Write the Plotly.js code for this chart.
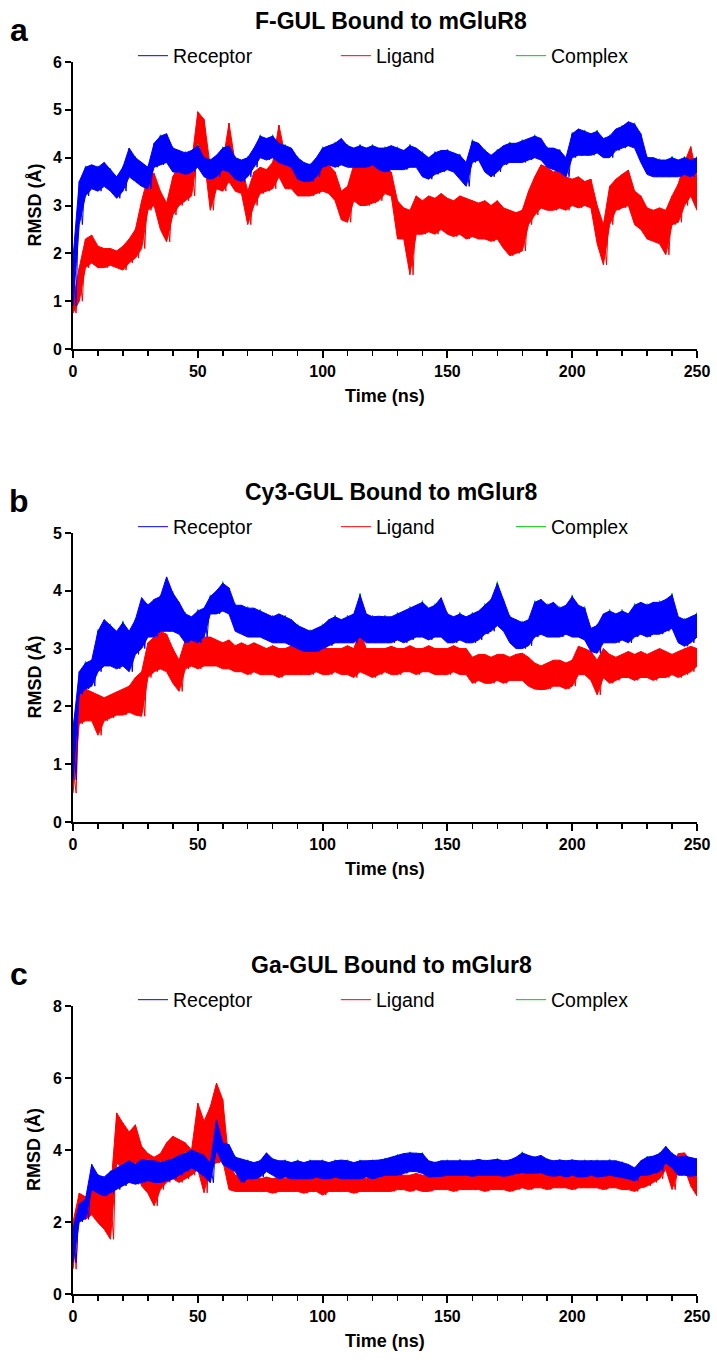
<!DOCTYPE html>
<html><head><meta charset="utf-8">
<script src="https://cdn.plot.ly/plotly-3.0.1.min.js"></script>
<style>html,body{margin:0;padding:0;background:#fff}#chart{width:717px;height:1362px}</style>
</head><body><div id="chart"></div>
<script>
// ---------------- DATA (RMSD in Å) ----------------
// Receptor / Ligand: upper and lower edge of the noisy trace, every 2.5 ns (0..250)
const aRecHi = [1.9,3.5,3.8,3.85,3.8,3.9,3.75,3.6,3.8,4.2, 4.0,3.9,3.8,4.3,4.45,4.5,4.2,4.15,4.1,4.15, 4.25,4.0,3.95,4.05,4.2,4.25,4.0,3.95,4.0,4.2, 4.45,4.4,4.45,4.3,4.25,4.2,4.0,3.9,3.85,4.0, 4.2,4.25,4.3,4.4,4.25,4.2,4.25,4.2,4.25,4.2, 4.2,4.25,4.2,4.15,4.25,4.2,4.1,4.0,4.1,4.15, 4.15,4.1,4.05,3.9,4.35,4.3,4.15,4.05,4.15,4.25, 4.3,4.3,4.35,4.4,4.45,4.4,4.2,4.2,4.15,4.0, 4.5,4.6,4.55,4.5,4.55,4.4,4.45,4.6,4.65,4.75, 4.7,4.5,4.0,4.0,3.95,3.95,4.0,3.95,4.0,3.95, 4.0];
const aRecLo = [0.9,2.6,3.2,3.35,3.3,3.4,3.3,3.15,3.3,3.6, 3.5,3.4,3.35,3.8,3.85,3.9,3.7,3.7,3.65,3.7, 3.8,3.6,3.55,3.6,3.75,3.7,3.55,3.5,3.6,3.8, 4.0,3.95,4.0,3.9,3.85,3.8,3.55,3.5,3.5,3.6, 3.8,3.85,3.8,3.85,3.8,3.8,3.8,3.8,3.85,3.75, 3.7,3.75,3.75,3.75,3.8,3.8,3.6,3.55,3.65,3.7, 3.75,3.7,3.55,3.4,3.9,3.95,3.7,3.6,3.7,3.85, 3.9,3.9,3.9,3.95,4.0,3.95,3.8,3.75,3.7,3.6, 4.0,4.05,4.05,4.05,4.1,4.0,4.0,4.15,4.2,4.25, 4.2,3.9,3.65,3.6,3.6,3.6,3.6,3.6,3.65,3.6, 3.7];
const aLigHi = [1.0,1.7,2.3,2.38,2.15,2.1,2.1,2.05,2.15,2.3, 2.5,3.1,3.6,3.67,3.3,3.05,3.6,3.85,3.88,3.9, 4.96,4.8,3.8,3.95,3.9,4.72,3.88,3.85,3.3,3.7, 3.8,3.75,3.9,4.68,4.05,4.0,3.74,3.7,3.6,3.7, 3.88,3.85,3.7,3.3,3.4,3.85,3.85,3.8,3.85,3.8, 3.8,3.7,3.1,2.95,2.9,3.2,3.1,3.2,3.15,3.25, 3.15,3.1,3.2,3.15,3.1,3.05,3.1,3.0,3.1,2.95, 2.9,2.85,2.9,3.3,3.6,3.85,3.8,3.7,3.75,3.6, 3.55,3.6,3.5,3.55,3.0,2.6,3.4,3.55,3.65,3.74, 3.3,3.2,2.95,2.9,2.95,2.9,3.2,3.45,3.9,4.23, 3.6];
const aLigLo = [0.75,1.0,1.7,1.8,1.7,1.7,1.75,1.7,1.65,1.8, 1.9,2.1,2.9,3.0,2.5,2.24,2.8,3.0,3.1,3.2, 4.1,4.0,2.9,3.35,3.3,3.5,3.3,3.25,2.6,3.0, 3.25,3.3,3.35,3.6,3.35,3.35,3.2,3.2,3.2,3.25, 3.3,3.25,3.1,2.7,2.65,3.1,3.0,3.0,3.05,3.1, 3.25,3.2,2.3,2.3,1.55,2.4,2.4,2.45,2.4,2.5, 2.4,2.35,2.4,2.3,2.35,2.3,2.3,2.25,2.3,2.1, 1.95,2.0,2.05,2.6,2.8,2.95,2.9,2.9,2.95,2.9, 3.0,2.95,3.0,2.95,2.2,1.76,2.6,2.9,2.95,3.0, 2.6,2.5,2.3,2.25,2.2,1.97,2.6,2.65,3.0,3.2, 2.9];

const bRecHi = [1.6,2.6,2.75,2.8,3.3,3.5,3.4,3.3,3.45,3.3, 3.5,3.88,3.75,3.85,3.9,4.24,3.96,3.8,3.6,3.55, 3.65,3.7,3.9,4.0,4.13,4.05,3.75,3.75,3.7,3.7, 3.65,3.6,3.55,3.6,3.55,3.5,3.4,3.35,3.3,3.35, 3.4,3.5,3.55,3.5,3.55,3.6,3.93,3.6,3.55,3.56, 3.55,3.55,3.6,3.65,3.7,3.75,3.8,3.7,3.75,3.88, 3.6,3.55,3.6,3.55,3.6,3.65,3.75,3.85,4.13,3.85, 3.55,3.5,3.45,3.5,3.8,3.85,3.75,3.8,3.7,3.75, 3.9,3.75,3.7,3.35,3.4,3.6,3.65,3.6,3.65,3.6, 3.75,3.8,3.75,3.8,3.8,3.85,3.93,3.55,3.5,3.55, 3.6];
const bRecLo = [0.73,2.2,2.3,2.35,2.6,2.7,2.7,2.65,2.7,2.6, 2.9,3.0,3.2,3.2,3.3,3.3,3.3,3.25,3.1,3.15, 3.1,3.2,3.6,3.6,3.65,3.6,3.3,3.25,3.2,3.2, 3.2,3.15,3.1,3.1,3.1,3.05,3.0,2.95,2.95,2.95, 3.0,3.05,3.1,3.1,3.1,3.1,3.2,3.1,3.1,3.1, 3.1,3.1,3.15,3.1,3.15,3.2,3.2,3.15,3.2,3.2, 3.1,3.1,3.15,3.1,3.1,3.15,3.25,3.3,3.4,3.3, 3.1,3.0,3.0,3.05,3.2,3.25,3.2,3.2,3.2,3.25, 3.2,3.2,3.15,2.95,2.92,3.1,3.1,3.1,3.15,3.1, 3.2,3.25,3.2,3.25,3.25,3.3,3.35,3.1,3.04,3.1, 3.2];
const bLigHi = [1.0,2.29,2.3,2.25,2.2,2.15,2.2,2.25,2.3,2.35, 2.5,2.6,3.1,3.2,3.3,3.25,3.0,2.8,3.15,3.2, 3.15,3.2,3.2,3.15,3.1,3.15,3.05,3.1,3.05,3.1, 3.05,3.0,3.05,3.0,3.0,3.05,3.0,2.95,3.0,3.0, 3.0,3.0,3.0,3.0,3.05,3.0,3.3,3.0,3.0,3.0, 3.0,3.04,3.0,3.0,3.05,3.0,3.0,3.05,3.0,3.0, 3.0,3.05,3.0,3.0,2.85,2.9,2.9,2.85,2.9,2.9, 2.85,2.9,2.92,2.85,2.75,2.7,2.75,2.8,2.8,2.75, 2.8,3.04,3.0,2.95,2.8,3.0,2.9,2.85,2.9,2.95, 2.9,2.95,2.9,2.95,3.0,2.95,2.9,2.95,3.0,3.04, 3.0];
const bLigLo = [0.5,1.7,1.75,1.75,1.5,1.75,1.8,1.85,1.85,1.9, 1.85,1.83,2.5,2.6,2.65,2.6,2.4,2.26,2.65,2.7, 2.65,2.7,2.7,2.7,2.65,2.65,2.6,2.6,2.55,2.6, 2.55,2.55,2.55,2.5,2.55,2.55,2.55,2.55,2.55,2.6, 2.55,2.55,2.6,2.55,2.55,2.5,2.6,2.55,2.5,2.55, 2.6,2.55,2.55,2.6,2.6,2.55,2.6,2.6,2.55,2.55, 2.55,2.6,2.55,2.55,2.4,2.45,2.4,2.4,2.45,2.4, 2.45,2.45,2.45,2.35,2.3,2.29,2.3,2.35,2.35,2.3, 2.35,2.55,2.55,2.45,2.2,2.5,2.4,2.45,2.5,2.5, 2.45,2.5,2.5,2.45,2.5,2.5,2.55,2.5,2.55,2.6, 2.7];

const cRecHi = [1.8,2.5,2.63,3.6,3.3,3.25,3.4,3.5,3.6,3.7, 3.6,3.74,3.7,3.7,3.65,3.7,3.75,3.85,3.9,4.0, 3.92,3.85,3.64,4.84,4.2,4.15,3.8,3.74,3.7,3.65, 3.7,3.92,3.75,3.7,3.7,3.65,3.7,3.65,3.7,3.7, 3.7,3.65,3.7,3.72,3.7,3.65,3.7,3.7,3.7,3.72, 3.75,3.8,3.85,3.9,3.92,3.92,3.9,3.7,3.65,3.7, 3.7,3.7,3.72,3.7,3.7,3.74,3.7,3.72,3.74,3.7, 3.72,3.8,3.92,3.85,3.8,3.85,3.74,3.7,3.72,3.7, 3.72,3.7,3.7,3.72,3.7,3.7,3.72,3.7,3.65,3.6, 3.5,3.7,3.8,3.83,3.9,4.1,3.9,3.8,3.83,3.8, 3.75];
const cRecLo = [0.87,2.0,2.1,2.9,2.8,2.72,2.8,2.9,3.0,3.1, 3.05,3.1,3.15,3.1,3.1,3.15,3.2,3.3,3.4,3.5, 3.4,3.27,3.09,4.0,3.6,3.5,3.4,3.1,3.2,3.2, 3.25,3.4,3.3,3.2,3.25,3.2,3.2,3.2,3.2,3.25, 3.2,3.2,3.25,3.2,3.2,3.2,3.2,3.25,3.2,3.25, 3.3,3.3,3.3,3.35,3.4,3.4,3.35,3.25,3.27,3.27, 3.3,3.3,3.3,3.3,3.27,3.3,3.3,3.3,3.3,3.27, 3.3,3.35,3.37,3.35,3.35,3.37,3.3,3.27,3.3,3.25, 3.3,3.25,3.25,3.3,3.25,3.27,3.3,3.25,3.23,3.2, 3.14,3.3,3.3,3.35,3.4,3.64,3.5,3.3,3.3,3.27, 3.3];
const cLigHi = [2.0,2.8,2.7,2.9,2.85,3.0,2.8,5.03,4.75,4.5, 4.7,4.1,3.9,3.8,3.9,4.2,4.38,4.3,4.2,4.0, 5.3,4.8,5.2,5.86,5.4,3.64,3.3,3.27,3.25,3.27, 3.2,3.25,3.2,3.25,3.2,3.25,3.2,3.27,3.2,3.25, 3.2,3.2,3.25,3.2,3.25,3.2,3.25,3.2,3.25,3.3, 3.3,3.3,3.35,3.3,3.3,3.35,3.3,3.3,3.35,3.3, 3.35,3.3,3.35,3.37,3.3,3.35,3.3,3.35,3.37,3.3, 3.37,3.4,3.45,3.4,3.4,3.45,3.4,3.45,3.4,3.45, 3.4,3.45,3.4,3.45,3.4,3.45,3.4,3.45,3.4,3.3, 3.3,3.45,3.5,3.55,3.64,4.0,3.5,3.9,3.92,3.7, 3.37];
const cLigLo = [0.69,2.2,2.07,2.2,1.98,1.8,1.52,3.64,3.5,3.46, 3.5,3.0,2.8,2.45,2.9,3.1,3.2,3.1,3.2,3.3, 3.46,2.81,3.6,3.64,3.7,2.9,2.85,2.85,2.85,2.85, 2.85,2.85,2.8,2.85,2.85,2.85,2.85,2.8,2.85,2.85, 2.75,2.85,2.85,2.85,2.85,2.8,2.85,2.85,2.85,2.85, 2.85,2.85,2.9,2.9,2.85,2.9,2.85,2.85,2.9,2.9, 2.9,2.85,2.9,2.9,2.9,2.9,2.85,2.9,2.9,2.9, 2.85,2.9,2.95,2.9,2.95,2.95,2.9,2.95,2.95,2.95, 2.9,2.95,2.95,2.95,2.95,2.9,2.95,2.95,2.9,2.9, 2.85,2.95,3.0,3.1,3.2,3.46,2.9,3.4,3.5,3.0, 2.72];

// Complex: peaks every 5 ns (0..250) and troughs in between (2.5..247.5)
const aCpxHi = [1.95,3.83,3.83,3.78,3.83,4.03,3.83,4.48,4.23,4.13, 4.28,3.98,4.23,4.03,4.03,4.48,4.48,4.28,4.03,3.88, 4.23,4.33,4.28,4.28,4.28,4.23,4.23,4.28,4.13,4.13, 4.18,4.08,4.38,4.18,4.18,4.33,4.38,4.48,4.23,4.18, 4.53,4.58,4.58,4.48,4.68,4.73,4.03,3.98,4.03,4.03, 4.03];
const aCpxLo = [2.7,3.45,3.5,3.25,3.7,3.5,3.9,4.0,3.8,3.8, 3.7,3.7,3.8,3.6,3.9,4.05,4.0,3.9,3.6,3.7, 3.95,3.95,3.9,3.9,3.85,3.85,3.85,3.9,3.65,3.8, 3.8,3.5,4.05,3.7,3.95,4.0,4.05,4.05,3.85,3.7, 4.15,4.15,4.1,4.25,4.35,4.0,3.7,3.7,3.7,3.7];
const bCpxHi = [1.65,2.78,3.33,3.43,3.48,3.53,3.78,3.93,3.99,3.63, 3.68,3.93,4.16,3.78,3.73,3.68,3.58,3.58,3.43,3.33, 3.43,3.58,3.58,3.96,3.58,3.58,3.63,3.73,3.83,3.78, 3.63,3.63,3.63,3.78,4.16,3.58,3.48,3.83,3.78,3.73, 3.93,3.73,3.43,3.68,3.68,3.78,3.78,3.83,3.96,3.53, 3.63];
const bCpxLo = [2.3,2.45,2.8,2.75,2.7,3.1,3.3,3.4,3.35,3.25, 3.3,3.7,3.7,3.35,3.3,3.25,3.2,3.15,3.05,3.05, 3.15,3.2,3.2,3.2,3.2,3.2,3.2,3.3,3.25,3.3, 3.2,3.2,3.25,3.4,3.4,3.1,3.15,3.35,3.3,3.35, 3.3,3.05,3.2,3.2,3.2,3.35,3.35,3.4,3.2,3.2];
const cCpxHi = [1.85,2.66,3.33,3.43,3.63,3.63,3.73,3.68,3.78,3.93, 3.95,3.67,4.23,3.83,3.73,3.73,3.78,3.73,3.73,3.73, 3.73,3.73,3.73,3.73,3.73,3.78,3.88,3.95,3.93,3.68, 3.73,3.75,3.73,3.73,3.77,3.75,3.95,3.83,3.77,3.75, 3.75,3.73,3.73,3.75,3.68,3.53,3.83,3.93,3.93,3.86, 3.78];
const cCpxLo = [2.1,3.0,2.82,3.0,3.2,3.2,3.2,3.25,3.4,3.6, 3.37,4.1,3.6,3.2,3.3,3.5,3.3,3.3,3.3,3.35, 3.3,3.3,3.3,3.35,3.35,3.4,3.45,3.5,3.35,3.37, 3.4,3.4,3.4,3.4,3.37,3.45,3.45,3.47,3.37,3.35, 3.35,3.4,3.37,3.35,3.3,3.4,3.45,3.74,3.4,3.37];

const panelTitles = ['F-GUL Bound to mGluR8', 'Cy3-GUL Bound to mGlur8', 'Ga-GUL Bound to mGlur8'];
const panelLetters = ['a', 'b', 'c'];
const seriesNames = ['Receptor', 'Ligand', 'Complex'];
const yMax = [6, 5, 8];
const yStep = [1, 1, 2];
const xTicks = [0, 50, 100, 150, 200, 250];

// ---------------- BUILD ----------------
const W = 717, H = 1362;
const BLUE = '#0000ff', RED = '#ff0000', GREEN = '#00c800';
const FONT = 'Liberation Sans, Arial, sans-serif';
const px = v => v / W;
const py = v => 1 - v / H;

// panel geometry in pixels
const plotLeft = 73, plotRight = 697;
const plotTop = [62, 533, 1006];
const plotBottom = [349, 822, 1294];

function zig(hi, lo, step) {
  const x = [], y = [];
  for (let i = 0; i < hi.length; i++) {
    x.push(i * step); y.push(hi[i]);
    const tl = i * step + step / 2;
    if (i < lo.length && tl <= 250) { x.push(tl); y.push(lo[i]); }
  }
  return {x, y};
}
function band(hi, lo, step) {
  const t = hi.map((_, i) => i * step);
  return {x: t.concat(t.slice().reverse()), y: hi.concat(lo.slice().reverse())};
}

const panels = [
  {rec: [aRecHi, aRecLo], lig: [aLigHi, aLigLo], cpx: [aCpxHi, aCpxLo]},
  {rec: [bRecHi, bRecLo], lig: [bLigHi, bLigLo], cpx: [bCpxHi, bCpxLo]},
  {rec: [cRecHi, cRecLo], lig: [cLigHi, cLigLo], cpx: [cCpxHi, cCpxLo]},
];

const data = [];
const layout = {
  width: W, height: H, autosize: false,
  margin: {l: 0, r: 0, t: 0, b: 0},
  paper_bgcolor: '#fff', plot_bgcolor: 'rgba(0,0,0,0)',
  annotations: [], showlegend: true
};
const legendX = [133, 336, 511];

panels.forEach((p, k) => {
  const xa = k === 0 ? 'x' : 'x' + (k + 1);
  const ya = k === 0 ? 'y' : 'y' + (k + 1);
  const lg = n => { const idx = k * 3 + n; return idx === 0 ? 'legend' : 'legend' + (idx + 1); };
  const common = {xaxis: xa, yaxis: ya, type: 'scatter', mode: 'lines', hoverinfo: 'skip'};

  const lb = band(p.lig[0], p.lig[1], 2.5);
  data.push(Object.assign({}, common, {x: lb.x, y: lb.y, fill: 'toself', fillcolor: RED, line: {color: RED, width: 1}, showlegend: false}));
  const lz = zig(p.lig[0], p.lig[1], 2.5);
  data.push(Object.assign({}, common, {x: lz.x, y: lz.y, name: seriesNames[1], line: {color: RED, width: 1}, legend: lg(1)}));

  const cz = zig(p.cpx[0], p.cpx[1], 5);
  data.push(Object.assign({}, common, {x: cz.x, y: cz.y, name: seriesNames[2], line: {color: GREEN, width: 1}, legend: lg(2)}));

  const rb = band(p.rec[0], p.rec[1], 2.5);
  data.push(Object.assign({}, common, {x: rb.x, y: rb.y, fill: 'toself', fillcolor: BLUE, line: {color: BLUE, width: 1}, showlegend: false}));
  const rz = zig(p.rec[0], p.rec[1], 2.5);
  data.push(Object.assign({}, common, {x: rz.x, y: rz.y, name: seriesNames[0], line: {color: BLUE, width: 1}, legend: lg(0)}));

  const axBase = {
    showline: true, linecolor: '#000', linewidth: 2, mirror: false,
    ticks: 'outside', ticklen: 7, tickwidth: 2, tickcolor: '#000',
    showgrid: false, zeroline: false, fixedrange: true,
    tickfont: {family: FONT, size: 16, color: '#000', weight: 'bold'}
  };
  layout[k === 0 ? 'xaxis' : 'xaxis' + (k + 1)] = Object.assign({}, axBase, {
    domain: [px(plotLeft), px(plotRight)], anchor: ya, range: [0, 250],
    tickmode: 'array', tickvals: xTicks, ticktext: xTicks.map(String),
    minor: {tickmode: 'linear', tick0: 0, dtick: 10, ticks: 'outside', ticklen: 5, tickwidth: 1.5, tickcolor: '#000', showgrid: false}
  });
  layout[k === 0 ? 'yaxis' : 'yaxis' + (k + 1)] = Object.assign({}, axBase, {
    domain: [py(plotBottom[k]), py(plotTop[k])], anchor: xa, range: [0, yMax[k]],
    tickmode: 'linear', tick0: 0, dtick: yStep[k], ticklen: 6
  });

  // legends: one per entry for exact placement
  [0, 1, 2].forEach(n => {
    const key = lg(n);
    layout[key] = {
      x: px(legendX[n]), xanchor: 'left', y: py(plotTop[k] - 6), yanchor: 'middle',
      orientation: 'h', bgcolor: 'rgba(0,0,0,0)', borderwidth: 0,
      font: {family: FONT, size: 19.5, color: '#000'}, itemwidth: 30, itemclick: false, itemdoubleclick: false
    };
  });

  const midY = (plotTop[k] + plotBottom[k]) / 2;
  layout.annotations.push(
    {text: panelTitles[k], xref: 'paper', yref: 'paper', x: px(391), y: py(plotTop[k] - 41), xanchor: 'center', yanchor: 'middle', showarrow: false,
     font: {family: FONT, size: 23, color: '#000', weight: 'bold'}},
    {text: panelLetters[k], xref: 'paper', yref: 'paper', x: px(19), y: py(plotTop[k] - 32), xanchor: 'center', yanchor: 'middle', showarrow: false,
     font: {family: FONT, size: 32, color: '#000', weight: 'bold'}},
    {text: 'Time (ns)', xref: 'paper', yref: 'paper', x: px((plotLeft + plotRight) / 2), y: py(plotBottom[k] + 47), xanchor: 'center', yanchor: 'middle', showarrow: false,
     font: {family: FONT, size: 18, color: '#000', weight: 'bold'}},
    {text: 'RMSD (Å)', xref: 'paper', yref: 'paper', x: px(34), y: py(midY), xanchor: 'center', yanchor: 'middle', textangle: -90, showarrow: false,
     font: {family: FONT, size: 18, color: '#000', weight: 'bold'}}
  );
});

Plotly.newPlot('chart', data, layout, {staticPlot: true, displayModeBar: false});
</script>
</body></html>
